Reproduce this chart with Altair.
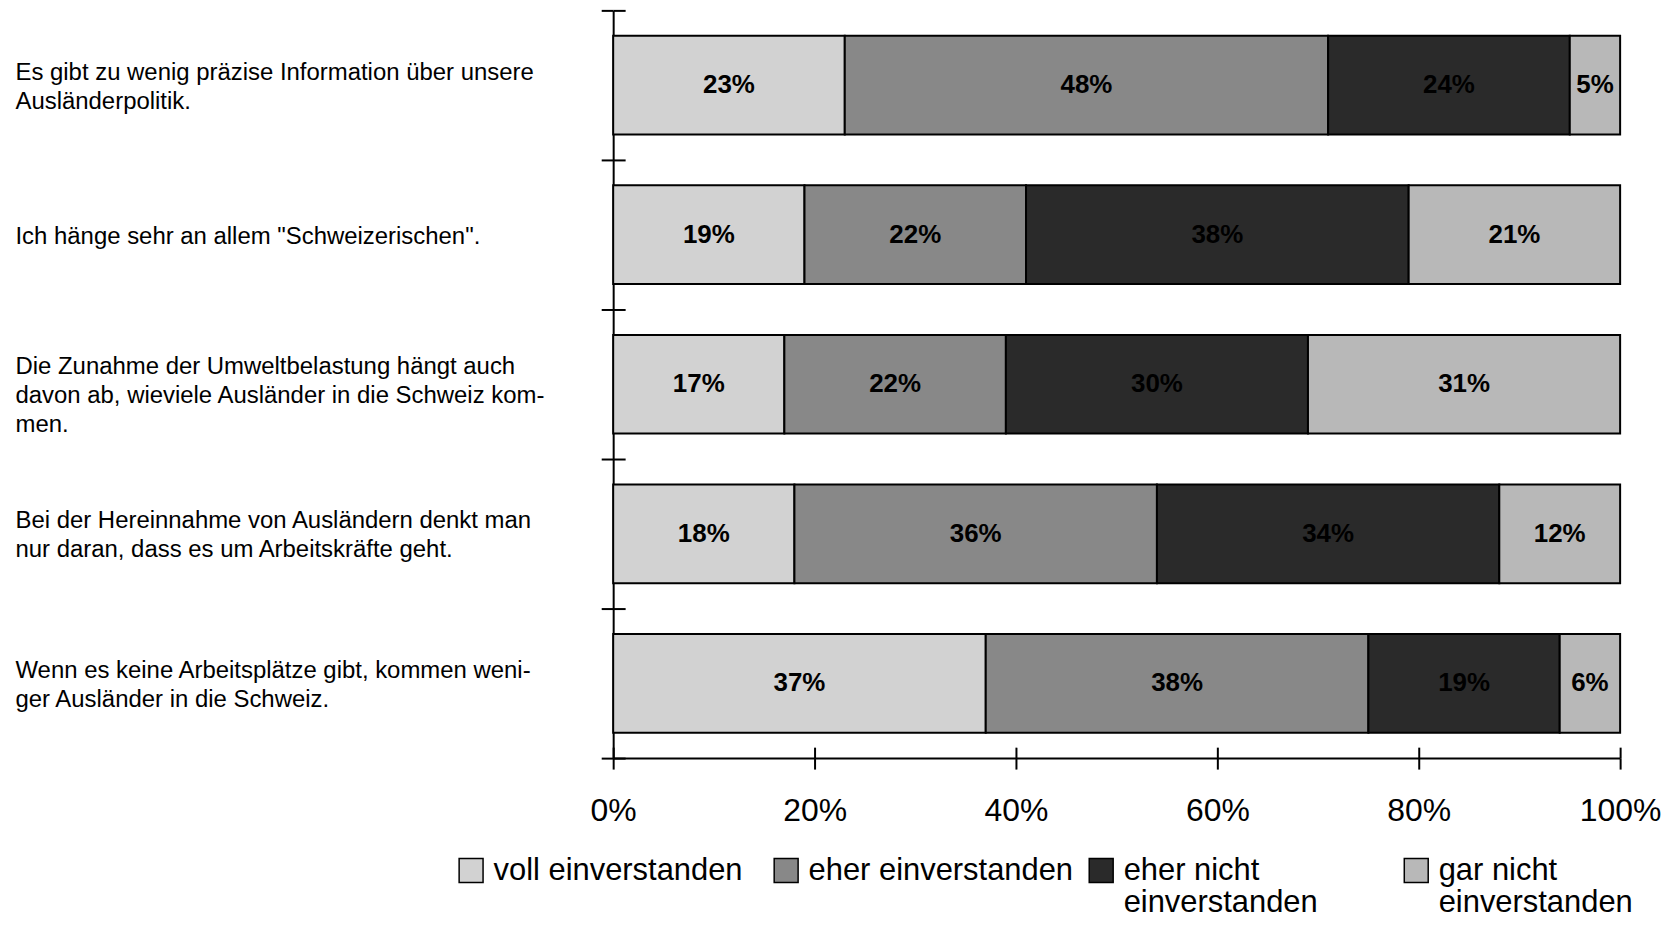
import altair as alt
import pandas as pd

statements = [
    "Es gibt zu wenig präzise Information über unsere|Ausländerpolitik.",
    'Ich hänge sehr an allem "Schweizerischen".',
    "Die Zunahme der Umweltbelastung hängt auch|davon ab, wieviele Ausländer in die Schweiz kom-|men.",
    "Bei der Hereinnahme von Ausländern denkt man|nur daran, dass es um Arbeitskräfte geht.",
    "Wenn es keine Arbeitsplätze gibt, kommen  weni-|ger Ausländer in die Schweiz.",
]
responses = ["voll einverstanden", "eher einverstanden",
             "eher nicht einverstanden", "gar nicht einverstanden"]
voll = [23, 19, 17, 18, 37]
eher = [48, 22, 22, 36, 38]
eher_nicht = [24, 38, 30, 34, 19]
gar_nicht = [5, 21, 31, 12, 6]
x_ticks = [0, 20, 40, 60, 80, 100]
colors = ["#d2d2d2", "#888888", "#2a2a2a", "#b8b8b8"]

series = [voll, eher, eher_nicht, gar_nicht]
rows = []
for i, s in enumerate(statements):
    for j, r in enumerate(responses):
        rows.append({"statement": s, "response": r, "order": j, "value": series[j][i]})
df = pd.DataFrame(rows)

W, H = 1010, 750
FONT = "Liberation Sans"

legend_expr = ("datum.label == 'eher nicht einverstanden' ? ['eher nicht', 'einverstanden'] : "
               "datum.label == 'gar nicht einverstanden' ? ['gar nicht', 'einverstanden'] : "
               "[datum.label, ' ']")

yscale = alt.Scale(paddingInner=0, paddingOuter=0)
xscale = alt.Scale(domain=[0, 100], nice=False)

base = alt.Chart(df)

label_offset = {
    "condition": [
        {"test": "length(split(datum.label, '|')) == 3", "value": -18},
        {"test": "length(split(datum.label, '|')) == 2", "value": -13},
    ],
    "value": 2,
}

bars = base.mark_bar(stroke="black", strokeWidth=2, height={"band": 0.66}).encode(
    x=alt.X("value:Q", stack="zero", scale=xscale,
            axis=alt.Axis(values=x_ticks, labelExpr="datum.value + '%'", title=None,
                          tickSize=11, tickWidth=2, tickColor="black",
                          domainColor="black", domainWidth=2, grid=False,
                          labelFont=FONT, labelFontSize=32, labelColor="black",
                          labelPadding=27, labelFlush=False, labelOverlap=False)),
    y=alt.Y("statement:N", sort=statements, scale=yscale,
            axis=alt.Axis(title=None, labelAlign="left", labelPadding=588, tickSize=12,
                          tickBand="extent", tickWidth=2, tickColor="black",
                          domainColor="black", domainWidth=2,
                          labelExpr="split(datum.label, '|')", labelFont=FONT,
                          labelFontSize=24, labelLineHeight=29, labelLimit=640,
                          labelColor="black", labelBaseline="middle",
                          labelOffset=label_offset)),
    color=alt.Color("response:N", sort=responses,
                    scale=alt.Scale(domain=responses, range=colors),
                    legend=alt.Legend(orient="none", legendX=-158, legendY=847,
                                      direction="horizontal", columns=4, gridAlign="all",
                                      columnPadding=12, symbolType="square", symbolSize=576,
                                      symbolStrokeColor="black", symbolStrokeWidth=1.5,
                                      labelFont=FONT, labelFontSize=31,
                                      labelColor="black", labelExpr=legend_expr,
                                      labelLimit=400, labelOffset=7, title=None)),
    order=alt.Order("order:Q"),
)

texts = base.transform_window(
    cum="sum(value)", groupby=["statement"], sort=[alt.SortField("order")], frame=[None, 0]
).transform_calculate(
    mid="datum.cum - datum.value / 2", label="datum.value + '%'"
).mark_text(font=FONT, fontWeight="bold", fontSize=26, color="black").encode(
    x=alt.X("mid:Q", scale=xscale,
            axis=alt.Axis(orient="top", offset=-H, values=x_ticks, labels=False, domain=False,
                          tickSize=11, tickWidth=2, tickColor="black", grid=False, title=None)),
    y=alt.Y("statement:N", sort=statements, scale=yscale,
            axis=alt.Axis(orient="right", offset=-W, labels=False, domain=False, tickSize=12,
                          tickBand="extent", tickWidth=2, tickColor="black", title=None)),
    text="label:N",
)

chart = alt.layer(bars, texts).resolve_axis(x="independent", y="independent").properties(
    width=W, height=H,
    autosize=alt.AutoSizeParams(type="none"),
    padding={"left": 607, "top": 1, "right": 42, "bottom": 165},
).configure(
    background="white", style={"guide-label": {"lineHeight": 33}}
).configure_view(stroke=None)

chart.save("out.html", embed_options={"renderer": "svg", "actions": False})
